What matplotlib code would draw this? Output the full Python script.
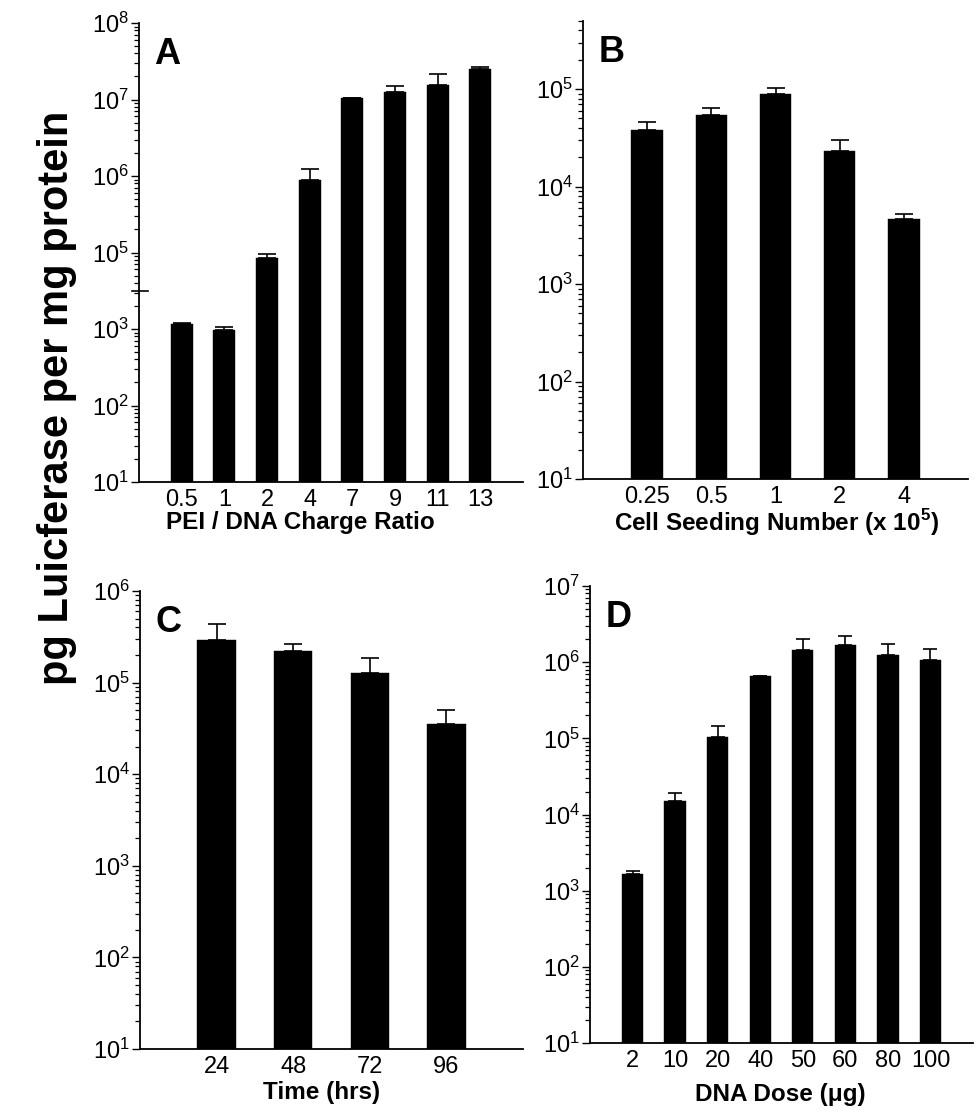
import numpy as np
import matplotlib
matplotlib.use("Agg")
import matplotlib.pyplot as plt
from matplotlib.ticker import FixedLocator, FuncFormatter, LogLocator, NullFormatter
from matplotlib.transforms import blended_transform_factory

plt.rcParams['font.family'] = ['Liberation Sans', 'DejaVu Sans']
plt.rcParams['mathtext.fontset'] = 'custom'
plt.rcParams['mathtext.rm'] = 'Liberation Sans'

# ---- data ----
A_labels = ['0.5', '1', '2', '4', '7', '9', '11', '13']
A_mean = [1.16e3, 0.98e3, 8.5e4, 8.8e5, 1.05e7, 1.26e7, 1.57e7, 2.48e7]
A_err = [0.05e3, 0.08e3, 1.1e4, 3.4e5, 0.0, 0.23e7, 0.58e7, 0.17e7]

B_labels = ['0.25', '0.5', '1', '2', '4']
B_mean = [3.85e4, 5.4e4, 9.0e4, 2.3e4, 4.6e3]
B_err = [0.72e4, 1.0e4, 1.2e4, 0.68e4, 0.6e3]

C_labels = ['24', '48', '72', '96']
C_mean = [2.9e5, 2.23e5, 1.27e5, 3.56e4]
C_err = [1.5e5, 0.43e5, 0.58e5, 1.4e4]

D_labels = ['2', '10', '20', '40', '50', '60', '80', '100']
D_mean = [1.68e3, 1.51e4, 1.04e5, 6.5e5, 1.46e6, 1.70e6, 1.24e6, 1.07e6]
D_err = [0.14e3, 0.41e4, 0.40e5, 0.0, 0.55e6, 0.49e6, 0.51e6, 0.40e6]

BASE = 10.0
W, H = 979, 1114
fig = plt.figure(figsize=(W / 100, H / 100), dpi=100)


def px_axes(l, t, r, b):
    return fig.add_axes([l / W, 1 - b / H, (r - l) / W, (b - t) / H])


def sup_fmt(v, pos):
    return r'$\mathregular{10^{%d}}$' % int(round(np.log10(v)))


# broken log axis for panel A: decade 10^3.5 .. 10^4.5 is cut out
BRK_LO, BRK_HI = 3.5, 4.5


def fwd(v):
    lv = np.log10(np.maximum(np.asarray(v, dtype=float), 1e-300))
    return np.where(lv <= BRK_LO, lv, np.where(lv >= BRK_HI, lv - 1.0, BRK_LO))


def inv(p):
    p = np.asarray(p, dtype=float)
    return np.where(p <= BRK_LO, 10.0 ** p, 10.0 ** (p + 1.0))


def draw_panel(ax, labels, mean, err, width, capsize, xmax, ylim, letter):
    x = np.arange(1, len(labels) + 1)
    mean = np.asarray(mean)
    err = np.asarray(err)
    ax.bar(x, mean - BASE, bottom=BASE, width=width, color='black', edgecolor='black', lw=0.3)
    # only the upper whisker is shown
    ax.errorbar(x, mean, yerr=[np.zeros_like(err), err], fmt='none', ecolor='black',
                elinewidth=1.2, capsize=capsize, capthick=1.2)
    ax.set_xlim(0, xmax)
    ax.set_ylim(*ylim)
    ax.set_xticks(x)
    ax.set_xticklabels(labels, fontsize=17)
    ax.tick_params(axis='x', length=0, pad=5)
    ax.tick_params(axis='y', which='major', direction='out', length=6, width=1, labelsize=17, pad=1)
    ax.tick_params(axis='y', which='minor', direction='out', length=3.5, width=0.9)
    for s in ('top', 'right'):
        ax.spines[s].set_visible(False)
    for s in ('left', 'bottom'):
        ax.spines[s].set_linewidth(1.3)
    ax.text(0.04, 0.97, letter, transform=ax.transAxes, fontsize=26, fontweight='bold',
            ha='left', va='top')


# ---- A ----
axA = px_axes(139, 23, 523, 482)
axA.set_yscale('function', functions=(fwd, inv))
draw_panel(axA, A_labels, A_mean, A_err, 0.51, 6.2, 9, (10, 1e8), 'A')
majA = [1e1, 1e2, 1e3, 1e5, 1e6, 1e7, 1e8]
minA = [m * 10.0 ** d for d in range(1, 8) for m in range(2, 10)]
minA = [v for v in minA if not (10 ** BRK_LO < v < 10 ** BRK_HI) and v < 1e8]
axA.yaxis.set_major_locator(FixedLocator(majA))
axA.yaxis.set_minor_locator(FixedLocator(minA))
axA.yaxis.set_major_formatter(FuncFormatter(sup_fmt))
axA.yaxis.set_minor_formatter(NullFormatter())
trA = blended_transform_factory(axA.transAxes, axA.transData)
axA.plot([-7 / 384, 9 / 384], [10 ** BRK_LO, 10 ** BRK_LO], color='black', lw=1.2,
         transform=trA, clip_on=False)

# ---- B ----
axB = px_axes(583, 21, 968, 479)
axB.set_yscale('log')
draw_panel(axB, B_labels, B_mean, B_err, 0.49, 6.2, 6, (10, 5e5), 'B')

# ---- C ----
axC = px_axes(140, 591, 523, 1049)
axC.set_yscale('log')
draw_panel(axC, C_labels, C_mean, C_err, 0.5, 6.5, 5, (10, 1e6), 'C')

# ---- D ----
axD = px_axes(590, 586, 973, 1043)
axD.set_yscale('log')
draw_panel(axD, D_labels, D_mean, D_err, 0.5, 4.7, 9, (10, 1e7), 'D')

for ax in (axB, axC, axD):
    ax.yaxis.set_major_locator(LogLocator(base=10, numticks=20))
    ax.yaxis.set_minor_locator(LogLocator(base=10, subs=np.arange(2, 10), numticks=20))
    ax.yaxis.set_major_formatter(FuncFormatter(sup_fmt))
    ax.yaxis.set_minor_formatter(NullFormatter())

# ---- axis titles ----
fig.text(300 / W, 1 - 523 / H, 'PEI / DNA Charge Ratio', fontsize=17.5, fontweight='bold',
         ha='center', va='center')
fig.text(777 / W, 1 - 523 / H, r'Cell Seeding Number (x 10$^{\mathregular{5}}$)', fontsize=17.5,
         fontweight='bold', ha='center', va='center')
fig.text(322 / W, 1 - 1092 / H, 'Time (hrs)', fontsize=17.5, fontweight='bold',
         ha='center', va='center')
fig.text(780 / W, 1 - 1094 / H, 'DNA Dose (\u03bcg)', fontsize=17.5, fontweight='bold',
         ha='center', va='center')
fig.text(57 / W, 1 - 398 / H, 'pg Luicferase per mg protein', fontsize=30, fontweight='bold',
         rotation=90, ha='center', va='center')

fig.savefig('out.png', dpi=100)
